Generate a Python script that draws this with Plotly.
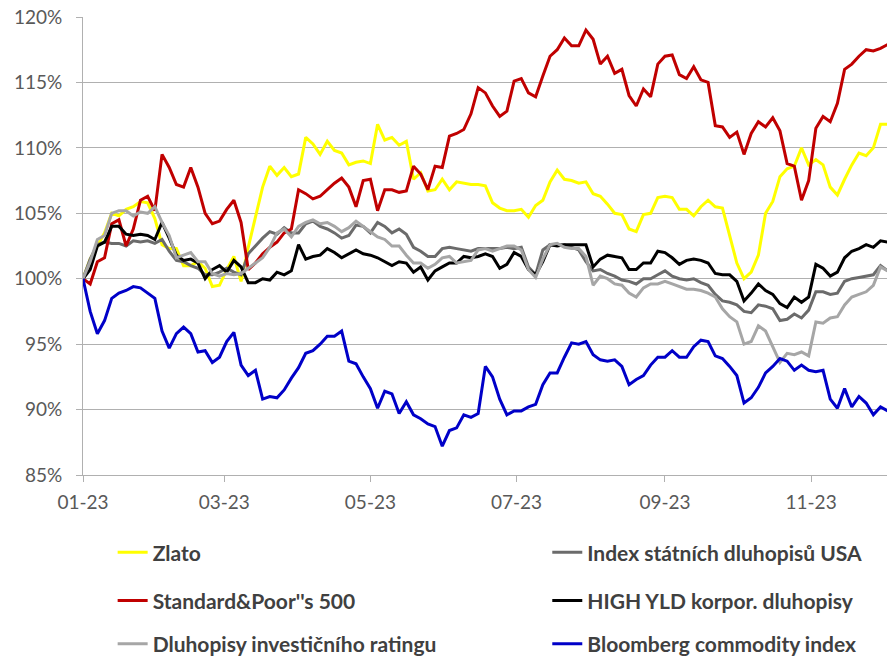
import pandas as pd
import plotly.graph_objects as go

# Observation dates: every third calendar day from 1 Jan 2023
dates = pd.date_range("2023-01-01", periods=113, freq="3D")

# Index values in % (start = 100 %)
zlato = [
    100.0, 101.5, 102.5, 103.5, 105.0, 104.8, 105.3, 105.5, 105.9, 105.8,
    104.6, 102.6, 102.3, 102.3, 101.0, 101.0, 101.3, 100.8, 99.4, 99.5,
    100.7, 101.7, 99.8, 102.4, 104.7, 107.0, 108.6, 107.9, 108.5, 107.8,
    108.0, 110.8, 110.3, 109.5, 110.5, 109.8, 109.6, 108.7, 108.9, 109.0,
    108.8, 111.8, 110.6, 110.8, 110.2, 110.5, 107.6, 108.1, 106.7, 106.8,
    107.6, 106.8, 107.4, 107.3, 107.2, 107.2, 107.1, 105.8, 105.4, 105.2,
    105.2, 105.3, 104.7, 105.6, 106.0, 107.4, 108.3, 107.6, 107.5, 107.3,
    107.4, 106.5, 106.3, 105.7, 105.0, 104.9, 103.8, 103.6, 104.9, 105.0,
    106.2, 106.3, 106.2, 105.3, 105.3, 104.8, 105.5, 106.0, 105.5, 105.4,
    103.3, 101.2, 100.0, 100.5, 101.8, 105.0, 105.9, 107.8, 108.4, 108.6,
    110.0, 108.7, 109.1, 108.7, 107.0, 106.4, 107.6, 108.7, 109.6, 109.4,
    110.0, 111.8, 111.8,
]

index_usa = [
    100.0, 101.5, 102.6, 102.8, 102.7, 102.7, 102.5, 102.9, 102.8, 102.9,
    102.7, 103.0, 102.1, 101.4, 101.3, 101.0, 100.8, 100.3, 100.3, 100.5,
    100.8, 100.5, 100.3, 101.9, 102.5, 103.1, 103.6, 103.4, 103.9, 103.5,
    103.5, 104.2, 104.4, 104.0, 103.8, 103.5, 103.1, 103.3, 104.1, 104.0,
    103.5, 104.3, 104.0, 103.5, 103.8, 103.4, 102.4, 102.1, 101.7, 101.7,
    102.3, 102.4, 102.3, 102.2, 102.1, 102.3, 102.3, 102.3, 102.3, 102.4,
    102.3, 102.4, 100.9, 100.3, 102.2, 102.6, 102.6, 102.6, 102.4, 102.2,
    101.3, 100.6, 100.7, 100.4, 100.2, 99.9, 99.8, 99.6, 100.0, 100.0,
    100.3, 100.6, 100.2, 100.0, 99.9, 100.0, 99.7, 99.5, 98.8, 98.3,
    98.2, 98.0, 97.5, 97.4, 98.0, 97.9, 97.7, 96.8, 96.9, 97.3,
    97.0, 97.6, 99.0, 99.0, 98.8, 98.9, 99.8, 100.0, 100.1, 100.2,
    100.3, 101.0, 100.6,
]

sp500 = [
    100.0, 99.6, 101.3, 101.6, 104.2, 104.5, 102.5, 103.8, 106.0, 106.3,
    105.2, 109.5, 108.5, 107.2, 107.0, 108.5, 107.0, 105.0, 104.2, 104.4,
    105.3, 106.0, 104.3, 100.7, 101.2, 101.9, 102.4, 102.8, 103.5, 103.8,
    106.8, 106.5, 106.1, 106.3, 106.8, 107.3, 107.7, 107.0, 105.5, 107.5,
    107.6, 105.2, 106.8, 106.8, 106.6, 106.7, 108.6, 108.0, 106.8, 108.6,
    108.5, 110.9, 111.1, 111.4, 112.6, 114.6, 114.2, 113.2, 112.4, 112.8,
    115.1, 115.3, 114.2, 113.9, 115.5, 117.0, 117.5, 118.4, 117.8, 117.8,
    119.0, 118.3, 116.4, 117.0, 115.7, 116.0, 114.0, 113.2, 114.5, 113.9,
    116.4, 117.0, 117.1, 115.6, 115.3, 116.2, 115.2, 115.0, 111.7, 111.6,
    110.8, 111.2, 109.5, 111.1, 112.0, 111.6, 112.3, 111.3, 108.8, 108.6,
    106.0, 107.5, 111.5, 112.4, 112.0, 113.4, 116.0, 116.4, 117.0, 117.5,
    117.4, 117.6, 117.9,
]

high_yld = [
    100.0, 100.7, 102.5, 102.8, 104.0, 104.0, 103.4, 103.3, 103.4, 103.3,
    103.0, 104.3, 103.1, 101.8, 101.4, 101.5, 101.2, 100.0, 100.7, 101.0,
    100.5, 101.4, 100.9, 99.7, 99.7, 100.0, 99.9, 100.5, 100.3, 100.6,
    102.6, 101.5, 101.7, 101.8, 102.3, 102.0, 101.6, 101.9, 102.2, 101.9,
    101.8, 101.6, 101.3, 101.0, 101.3, 101.2, 100.5, 100.9, 99.9, 100.6,
    100.9, 101.2, 101.2, 101.7, 101.6, 101.7, 101.9, 101.7, 100.8, 101.1,
    102.0, 101.7, 100.7, 100.3, 101.3, 102.6, 102.5, 102.6, 102.6, 102.6,
    102.6, 100.9, 101.5, 101.8, 101.7, 101.6, 100.7, 100.7, 101.2, 101.2,
    102.1, 102.0, 101.6, 101.1, 101.4, 101.5, 101.4, 101.2, 100.4, 100.3,
    100.3, 99.8, 98.3, 98.9, 99.6, 99.1, 98.8, 98.1, 97.8, 98.6,
    98.2, 98.6, 101.1, 100.8, 100.2, 100.5, 101.6, 102.1, 102.3, 102.6,
    102.4, 102.9, 102.8,
]

dluhopisy_ig = [
    100.0, 101.3, 103.0, 103.3, 105.0, 105.2, 105.2, 104.8, 105.1, 105.0,
    105.5, 104.3, 103.3, 101.6, 101.8, 102.0, 101.3, 101.3, 100.4, 100.2,
    100.4, 100.3, 100.4, 100.8, 101.2, 101.6, 102.4, 103.5, 103.8, 103.2,
    104.0, 104.3, 104.5, 104.2, 104.3, 104.0, 103.6, 103.9, 104.4, 104.0,
    103.6, 103.2, 103.0, 102.5, 102.5, 101.8, 101.2, 101.2, 100.8, 101.1,
    101.6, 101.7, 101.2, 101.3, 101.4, 102.2, 102.3, 102.1, 102.3, 102.5,
    102.5, 102.2, 100.7, 100.1, 101.5, 102.6, 102.7, 102.4, 102.3, 102.3,
    101.7, 99.5, 100.2, 100.0, 99.6, 99.5, 98.9, 98.6, 99.3, 99.6,
    99.6, 99.8, 99.6, 99.4, 99.2, 99.2, 99.1, 98.9, 98.6, 97.7,
    97.1, 96.7, 95.0, 95.2, 96.4, 96.0, 94.8, 93.6, 94.3, 94.2,
    94.4, 94.1, 96.7, 96.6, 97.0, 97.1, 98.0, 98.6, 98.8, 99.0,
    99.5, 100.9, 100.6,
]

bloomberg = [
    100.0, 97.5, 95.8, 96.8, 98.5, 98.9, 99.1, 99.4, 99.3, 98.9,
    98.5, 96.0, 94.7, 95.8, 96.3, 95.8, 94.4, 94.5, 93.6, 94.0,
    95.2, 95.9, 93.4, 92.6, 93.0, 90.8, 91.0, 90.9, 91.5, 92.4,
    93.2, 94.3, 94.5, 95.0, 95.6, 95.6, 96.0, 93.7, 93.5, 92.5,
    91.6, 90.1, 91.4, 91.2, 89.7, 90.6, 89.6, 89.3, 88.9, 88.7,
    87.2, 88.4, 88.6, 89.6, 89.4, 89.7, 93.3, 92.5, 90.8, 89.6,
    89.9, 89.9, 90.2, 90.4, 91.9, 92.8, 92.8, 94.0, 95.1, 95.0,
    95.2, 94.2, 93.8, 93.7, 93.8, 93.3, 91.9, 92.3, 92.6, 93.4,
    94.0, 94.0, 94.5, 94.0, 94.0, 94.8, 95.3, 95.2, 94.1, 93.9,
    93.3, 92.6, 90.5, 90.9, 91.7, 92.8, 93.3, 93.9, 93.7, 93.0,
    93.4, 93.0, 92.9, 93.0, 90.8, 90.1, 91.6, 90.2, 91.0, 90.5,
    89.6, 90.2, 89.9,
]

# name, values, colour, legend id, legend position (container fractions)
series = [
    ("Zlato", zlato, "#ffff00", "legend", 0.127, 0.160),
    ("Index státních dluhopisů USA", index_usa, "#6b6b6b", "legend2", 0.617, 0.160),
    ("Standard&Poor''s 500", sp500, "#c00000", "legend3", 0.127, 0.087),
    ("HIGH YLD korpor. dluhopisy", high_yld, "#000000", "legend4", 0.617, 0.087),
    ("Dluhopisy investičního ratingu", dluhopisy_ig, "#a6a6a6", "legend5", 0.127, 0.021),
    ("Bloomberg commodity index", bloomberg, "#0000c8", "legend6", 0.617, 0.021),
]

FONT = "Lato"
AXIS_GREY = "#b0b0b0"
TEXT_GREY = "#595959"

fig = go.Figure()
legends = {}
for name, vals, color, leg, lx, ly in series:
    fig.add_trace(go.Scatter(
        x=dates, y=vals, name=name, mode="lines",
        line=dict(color=color, width=3),
        legend=leg, showlegend=True,
    ))
    legends[leg] = dict(
        xref="container", yref="container",
        x=lx, y=ly, xanchor="left", yanchor="middle",
        orientation="h", itemwidth=30,
        bgcolor="rgba(0,0,0,0)",
        font=dict(family=FONT, size=21, color="#404040", weight="bold"),
    )

x_start = pd.Timestamp("2023-01-01")
x_end = x_start + pd.Timedelta(days=335.7)

fig.update_layout(
    width=887, height=658,
    margin=dict(l=83, r=0, t=17, b=183),
    paper_bgcolor="white", plot_bgcolor="white",
    font=dict(family=FONT, color=TEXT_GREY),
    showlegend=True,
    xaxis=dict(
        type="date", range=[x_start, x_end],
        tick0="2023-01-01", dtick="M2", tickformat="%m-%y",
        showgrid=False, showline=True, linecolor=AXIS_GREY, linewidth=1,
        ticks="outside", ticklen=6, tickcolor=AXIS_GREY,
        tickfont=dict(family=FONT, size=19, color=TEXT_GREY),
        ticklabelstandoff=4,
    ),
    yaxis=dict(
        range=[85, 120], dtick=5, ticksuffix="%",
        showgrid=True, gridcolor=AXIS_GREY, gridwidth=1,
        showline=True, linecolor=AXIS_GREY, linewidth=1,
        ticks="outside", ticklen=6, tickcolor=AXIS_GREY,
        tickfont=dict(family=FONT, size=19, color=TEXT_GREY),
        ticklabelstandoff=10, zeroline=False,
    ),
    **legends,
)

fig.write_html("out.html")
